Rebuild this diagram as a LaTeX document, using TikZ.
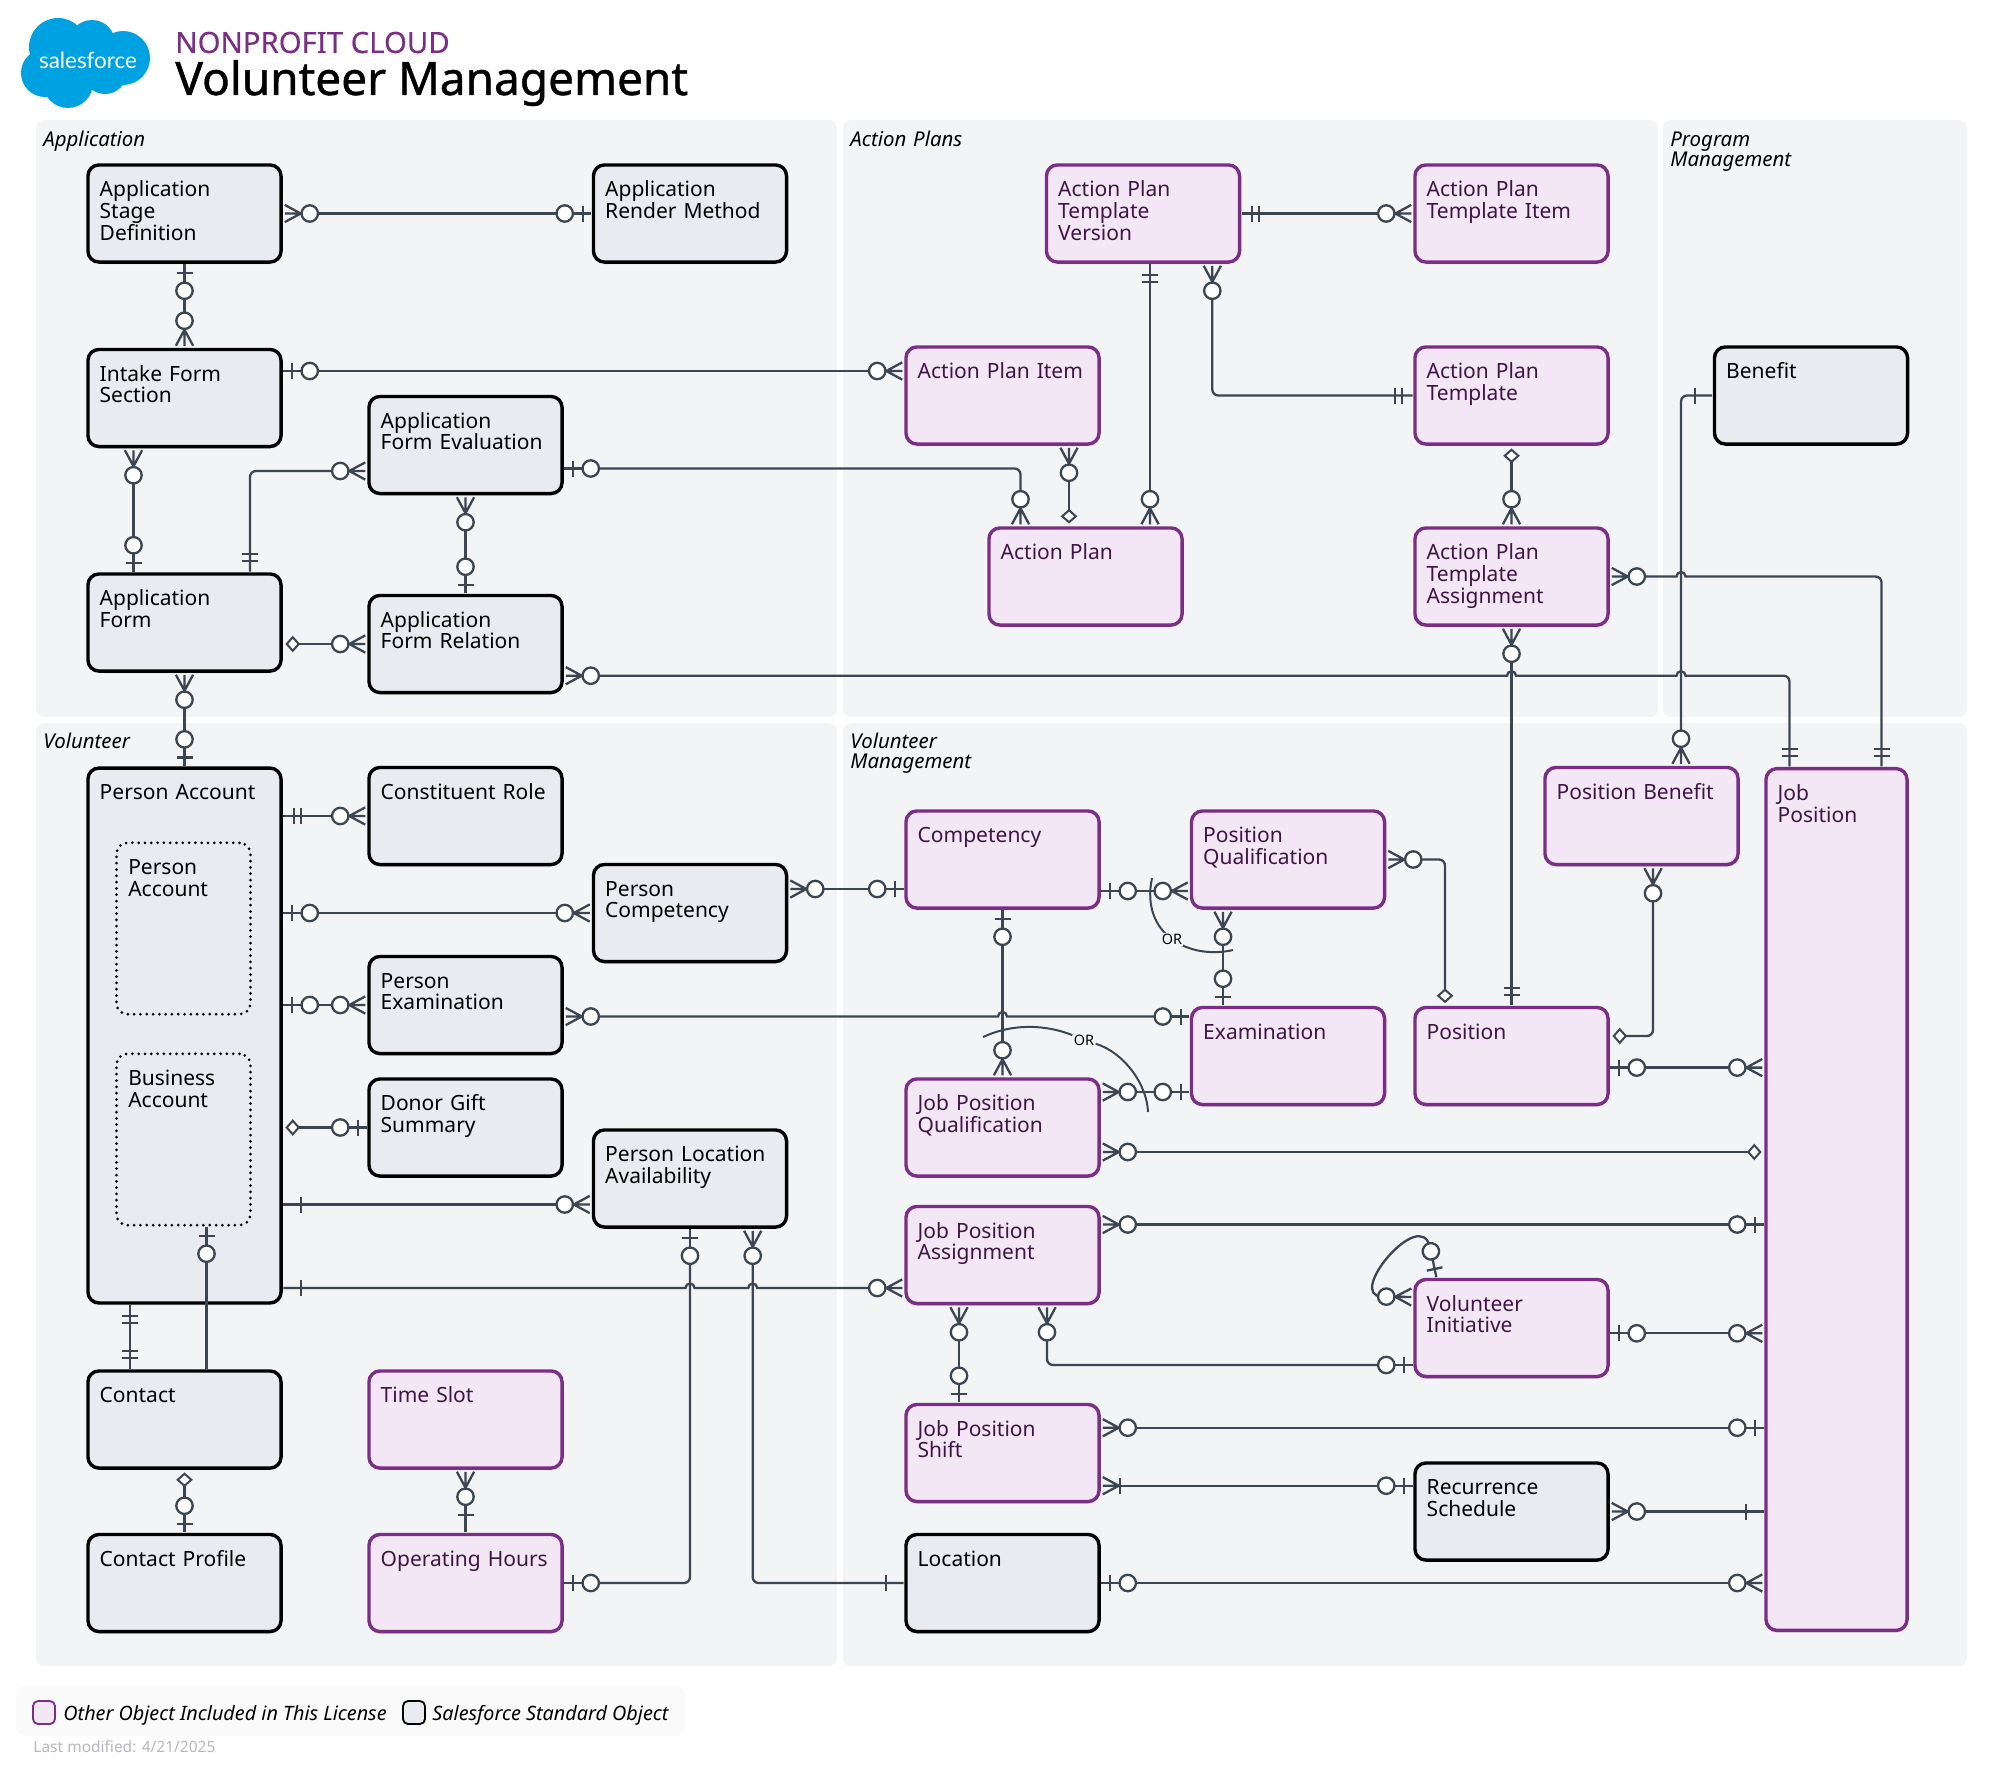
\documentclass[tikz,border=0pt]{standalone}
\usepackage{fontspec}
\setmainfont{Noto Sans}
\newfontfamily\titlefont[FakeBold=1]{Noto Sans}
\newfontfamily\headfont[FakeBold=.3]{Noto Sans}
\newfontfamily\logofont{Lato}
\usetikzlibrary{calc,shadows}

\definecolor{linegray}{HTML}{3B4652}
\definecolor{panelgray}{HTML}{F3F4F6}
\definecolor{stdfill}{HTML}{E9EBF0}
\definecolor{licfill}{HTML}{F3E7F5}
\definecolor{licline}{HTML}{7A2E85}
\definecolor{lictext}{HTML}{3F1546}
\definecolor{logoblue}{HTML}{00A1E0}
\definecolor{legendgray}{HTML}{FAFAFB}
\definecolor{notegray}{HTML}{B4B7BC}

\newcommand{\tipcircle}{\pgfsetfillcolor{white}\pgfpathcircle{\pgfqpoint{-13.5pt}{0pt}}{4.1pt}\pgfusepathqfillstroke}
\newcommand{\tipcrow}{
	\pgfpathmoveto{\pgfqpoint{-1pt}{4.3pt}}\pgfpathlineto{\pgfqpoint{-9pt}{0pt}}\pgfpathlineto{\pgfqpoint{-1pt}{-4.3pt}}
	\pgfpathmoveto{\pgfqpoint{-1pt}{0pt}}\pgfpathlineto{\pgfqpoint{-9.5pt}{0pt}}\pgfusepathqstroke}
\newcommand{\tipbar}[1]{\pgfpathmoveto{\pgfqpoint{#1}{4pt}}\pgfpathlineto{\pgfqpoint{#1}{-4pt}}\pgfusepathqstroke}

\pgfdeclarearrow{name=zm,
	setup code={\pgfarrowssettipend{0pt}\pgfarrowssetbackend{-17.5pt}\pgfarrowssetlineend{-15.5pt}},
	drawing code={\pgfsetlinewidth{1.15pt}\tipcrow\tipcircle}}
\pgfdeclarearrow{name=zo,
	setup code={\pgfarrowssettipend{0pt}\pgfarrowssetbackend{-17.5pt}\pgfarrowssetlineend{-15.5pt}},
	drawing code={\pgfsetlinewidth{1.15pt}\pgfpathmoveto{\pgfqpoint{-.3pt}{0pt}}\pgfpathlineto{\pgfqpoint{-10pt}{0pt}}\pgfusepathqstroke\tipbar{-4.5pt}\tipcircle}}
\pgfdeclarearrow{name=one,
	setup code={\pgfarrowssettipend{0pt}\pgfarrowssetbackend{-9pt}\pgfarrowssetlineend{-.3pt}},
	drawing code={\pgfsetlinewidth{1.15pt}\tipbar{-9pt}}}
\pgfdeclarearrow{name=two,
	setup code={\pgfarrowssettipend{0pt}\pgfarrowssetbackend{-9pt}\pgfarrowssetlineend{-.3pt}},
	drawing code={\pgfsetlinewidth{1.15pt}\tipbar{-5.5pt}\tipbar{-9pt}}}
\pgfdeclarearrow{name=dm,
	setup code={\pgfarrowssettipend{0pt}\pgfarrowssetbackend{-8pt}\pgfarrowssetlineend{-7.5pt}},
	drawing code={\pgfsetlinewidth{1pt}\pgfsetfillcolor{white}
		\pgfpathmoveto{\pgfqpoint{-2pt}{0pt}}\pgfpathlineto{\pgfqpoint{-5pt}{3.4pt}}\pgfpathlineto{\pgfqpoint{-8pt}{0pt}}\pgfpathlineto{\pgfqpoint{-5pt}{-3.4pt}}\pgfpathclose\pgfusepathqfillstroke}}
\pgfdeclarearrow{name=cb,
	setup code={\pgfarrowssettipend{0pt}\pgfarrowssetbackend{-9.5pt}\pgfarrowssetlineend{-1pt}},
	drawing code={\pgfsetlinewidth{1.15pt}\tipcrow\tipbar{-9.5pt}}}

% line hop over the vertical through #1, the line being at the height of #2
\newcommand{\hop}[2]{[sharp corners] -- ($(#1 |- #2)+(-4.5,0)$) arc[start angle=180,end angle=0,radius=2.25pt] [rounded corners=3pt]}

\tikzset{
	objbox/.style={
		rectangle, rounded corners=5.5pt, line width=1.7pt, align=left,
		text width=84.8pt, inner xsep=5.875pt, inner ysep=0pt,
		text height=15.9pt, text depth=32.65pt,
		font=\fontsize{10.5}{10.85}\selectfont,
		drop shadow={shadow xshift=0pt,shadow yshift=-1.2pt,opacity=.12}
	},
	stdobj/.style={objbox, draw=black, fill=stdfill, text=black},
	licobj/.style={objbox, draw=licline, fill=licfill, text=lictext},
	subobj/.style={
		rectangle, rounded corners=5.5pt, draw=black, line width=1.5pt, line cap=round,
		dash pattern=on 0pt off 3.15pt, align=left,
		text width=55.25pt, inner xsep=5.875pt, inner ysep=0pt,
		text height=15.9pt, text depth=69.8pt,
		font=\fontsize{10.5}{10.85}\selectfont
	},
	panel/.style={fill=panelgray, rounded corners=4pt},
	panellabel/.style={
		anchor=base west, inner sep=0pt, align=left, text width=120pt,
		font=\fontsize{10.2}{10}\selectfont\itshape
	},
	connect/.style={line width=1.15pt, draw=linegray, rounded corners=3pt},
	orarc/.style={line width=1pt, draw=linegray},
	orlabel/.style={fill=panelgray, inner sep=.6pt, font=\fontsize{7.2}{8}\selectfont, text=black},
	swatch/.style={rectangle, rounded corners=2.5pt, line width=.9pt, minimum width=11pt, minimum height=11.5pt, inner sep=0pt},
	legendtext/.style={anchor=base west, inner sep=0pt, font=\fontsize{9.9}{10}\selectfont\itshape}
}

\begin{document}
\begin{tikzpicture}[x=.5pt,y=-.5pt]
	\useasboundingbox (0,0) rectangle (2000,1777);

	\fill[logoblue] (58,47) circle[radius=29] (92,43) circle[radius=23] (123,58) circle[radius=27]
		(45,73) circle[radius=24] (68,83) circle[radius=25] (105,72) circle[radius=22];
	\node[text=white, inner sep=0pt, font=\fontsize{11.2}{12}\selectfont\logofont] (logo) at (88,60) {salesforce};
	\node[anchor=base west, inner sep=0pt, text=licline, font=\fontsize{14.65}{16}\selectfont\headfont] (cloudname) at (175,53) {NONPROFIT CLOUD};
	\node[anchor=base west, inner sep=0pt, text=black, font=\fontsize{23}{24}\selectfont\titlefont] (title) at (175,95) {Volunteer Management};

	\fill[panel] (36,120) rectangle (837,717);
	\fill[panel] (843,120) rectangle (1658,717);
	\fill[panel] (1663,120) rectangle (1967,717);
	\fill[panel] (36,723) rectangle (837,1666);
	\fill[panel] (843,723) rectangle (1967,1666);
	\node[panellabel] (plapp) at (43,146) {Application};
	\node[panellabel] (plact) at (850,146) {Action Plans};
	\node[panellabel] (plprog) at (1670,146) {Program\\Management};
	\node[panellabel] (plvol) at (43,748) {Volunteer};
	\node[panellabel] (plvm) at (850,748) {Volunteer\\Management};

	\node[stdobj] (ASD) at (184.5,213.5) {Application\\Stage\\Definition};
	\node[stdobj] (ARM) at (690,213.5) {Application\\Render Method};
	\node[stdobj] (IFS) at (184.5,398) {Intake Form\\Section};
	\node[stdobj] (AFE) at (465.5,445) {Application\\Form Evaluation};
	\node[stdobj] (AF) at (184.5,622.5) {Application\\Form};
	\node[stdobj] (AFR) at (465.5,644) {Application\\Form Relation};

	\node[licobj] (APTV) at (1143,213.5) {Action Plan\\Template\\Version};
	\node[licobj] (APTI) at (1511.5,213.5) {Action Plan\\Template Item};
	\node[licobj] (API) at (1002.5,395.5) {Action Plan Item};
	\node[licobj] (APT) at (1511.5,395.5) {Action Plan\\Template};
	\node[licobj] (AP) at (1085.5,576.5) {Action Plan};
	\node[licobj] (APTA) at (1511.5,576.5) {Action Plan\\Template\\Assignment};
	\node[stdobj] (BEN) at (1811,395.5) {Benefit};

	\node[stdobj, text depth=251.55pt] (PA) at (184.5,1035.5) {Person Account};
	\node[subobj] (PAB) at (183.5,928.5) {Person\\Account};
	\node[subobj] (BAB) at (183.5,1139.5) {Business\\Account};
	\node[stdobj] (CR) at (465.5,816) {Constituent Role};
	\node[stdobj] (PC) at (690,913) {Person\\Competency};
	\node[stdobj] (PE) at (465.5,1005) {Person\\Examination};
	\node[stdobj] (DGS) at (465.5,1127.5) {Donor Gift\\Summary};
	\node[stdobj] (PLA) at (690,1178.5) {Person Location\\Availability};
	\node[stdobj] (CON) at (184.5,1419.5) {Contact};
	\node[licobj] (TS) at (465.5,1419.5) {Time Slot};
	\node[stdobj] (CP) at (184.5,1583) {Contact Profile};
	\node[licobj] (OH) at (465.5,1583) {Operating Hours};

	\node[licobj] (CO) at (1002.5,859.5) {Competency};
	\node[licobj] (PQ) at (1288,859.5) {Position\\Qualification};
	\node[licobj] (PB) at (1641.5,816) {Position Benefit};
	\node[licobj] (EX) at (1288,1056) {Examination};
	\node[licobj] (POS) at (1511.5,1056) {Position};
	\node[licobj] (JPQ) at (1002.5,1127.5) {Job Position\\Qualification};
	\node[licobj] (JPA) at (1002.5,1255) {Job Position\\Assignment};
	\node[licobj] (VI) at (1511.5,1328) {Volunteer\\Initiative};
	\node[licobj] (JPS) at (1002.5,1453) {Job Position\\Shift};
	\node[stdobj] (RS) at (1511.5,1511.5) {Recurrence\\Schedule};
	\node[stdobj] (LOC) at (1002.5,1583) {Location};
	\node[licobj, text width=58.8pt, text depth=415pt] (JP) at (1836.5,1199.5) {Job\\Position};

	\draw[connect,zm-zo] (ASD.east) -- (ARM.west);
	\draw[connect,zo-zm] (ASD.south) -- (IFS.north);
	\draw[connect,zo-zm] ($(IFS.east)+(0,-27)$) coordinate (c) -- (API.west |- c);
	\draw[connect,zm-zo] ($(IFS.south)+(-51,0)$) -- ($(AF.north)+(-51,0)$);
	\draw[connect,zm-two] ($(AFE.west)+(0,26)$) -| ($(AF.north)+(65.5,0)$);
	\draw[connect,zo-zm] ($(AFE.east)+(0,23.5)$) -| ($(AP.north)+(-65,0)$);
	\draw[connect,zm-zo] (AFE.south) -- (AFR.north);
	\draw[connect,dm-zm] (AF.east |- AFR.west) -- (AFR.west);
	\draw[connect,zm-zo] (AF.south) -- (PA.north);

	\coordinate (afrline) at ($(AFR.east)+(0,31.7)$);
	\coordinate (pbline) at ($(PB.north)+(39.5,0)$);
	\draw[connect,zm-two] (afrline) \hop{APTA.south}{afrline} \hop{pbline}{afrline} -| ($(JP.north)+(-47,0)$);
	\draw[connect,zm-two] (APTA.east) \hop{pbline}{APTA.east} -| ($(JP.north)+(45,0)$);
	\draw[connect,one-zm] (BEN.west) -| (pbline);
	\draw[connect,zm-two] (APTA.south) -- (POS.north);

	\draw[connect,two-zm] (APTV.east) -- (APTI.west);
	\draw[connect,two-zm] ($(APTV.south)+(7,0)$) -- ($(AP.north)+(64.5,0)$);
	\draw[connect,zm-two] ($(APTV.south)+(69.3,0)$) |- (APT.west);
	\draw[connect,zm-dm] ($(API.south)+(66.5,0)$) -- ($(AP.north)+(-16.5,0)$);
	\draw[connect,dm-zm] (APT.south) -- (APTA.north);

	\draw[connect,two-zm] (PA.east |- CR.west) -- (CR.west);
	\draw[connect,zo-zm] (PA.east |- PC.west) -- (PC.west);
	\draw[connect,zo-zm] (PA.east |- PE.west) -- (PE.west);
	\draw[connect,dm-zo] (PA.east |- DGS.west) -- (DGS.west);
	\coordinate (plaleft) at ($(PLA.west)+(0,26)$);
	\draw[connect,one-zm] (PA.east |- plaleft) -- (plaleft);
	\coordinate (paline) at ($(JPA.west)+(0,33)$);
	\coordinate (plaright) at ($(PLA.south)+(62.7,0)$);
	\draw[connect,one-zm] (PA.east |- paline) \hop{PLA.south}{paline} \hop{plaright}{paline} -- (paline);
	\draw[connect,two-two] ($(PA.south)+(-54.5,0)$) -- ($(CON.north)+(-54.5,0)$);
	\coordinate (conright) at ($(CON.north)+(22,0)$);
	\draw[connect,zo-] (conright |- BAB.south) -- (conright);
	\draw[connect,dm-zo] (CON.south) -- (CP.north);
	\draw[connect,zm-one] (TS.south) -- (OH.north);
	\draw[connect,zo-zo] (OH.east) -| (PLA.south);
	\draw[connect,zm-one] (plaright) |- (LOC.west);

	\draw[connect,zm-zo] ($(PC.east)+(0,-24)$) coordinate (c) -- (CO.west |- c);
	\draw[connect,zo-zm] ($(CO.east)+(0,31.5)$) coordinate (c) -- (PQ.west |- c);
	\coordinate (peline) at ($(PE.east)+(0,11.5)$);
	\draw[connect,zm-zo] (peline) \hop{CO.south}{peline} -- (EX.west |- peline);
	\draw[connect,zo-zm] (CO.south) -- (JPQ.north);
	\draw[connect,zm-zo] ($(PQ.south)+(-65,0)$) -- ($(EX.north)+(-65,0)$);
	\draw[connect,zm-dm] (PQ.east) -| ($(POS.north)+(-66.5,0)$);
	\draw[connect,zm-zo] ($(JPQ.east)+(0,-35.5)$) coordinate (c) -- (EX.west |- c);
	\draw[connect,zm-dm] ($(JPQ.east)+(0,24.5)$) coordinate (c) -- (JP.west |- c);
	\draw[connect,zo-zm] ($(POS.east)+(0,11.6)$) coordinate (c) -- (JP.west |- c);
	\draw[connect,dm-zm] ($(POS.east)+(0,-20)$) -| ($(PB.south)+(11.5,0)$);
	\draw[connect,zm-zo] ($(JPA.east)+(0,-30.5)$) coordinate (c) -- (JP.west |- c);
	\draw[connect,zm-zo] ($(JPA.south)+(-43.5,0)$) -- ($(JPS.north)+(-43.5,0)$);
	\draw[connect,zm-zo] ($(JPA.south)+(44.5,0)$) |- ($(VI.west)+(0,37)$);
	\draw[connect,zo-zm] ($(VI.north)+(-75,0)$) .. controls (1421,1205) and (1345,1296) .. ($(VI.west)+(0,-31)$);
	\draw[connect,zo-zm] ($(VI.east)+(0,5.3)$) coordinate (c) -- (JP.west |- c);
	\draw[connect,zm-zo] ($(JPS.east)+(0,-25.3)$) coordinate (c) -- (JP.west |- c);
	\draw[connect,cb-zo] ($(JPS.east)+(0,32.7)$) coordinate (c) -- (RS.west |- c);
	\draw[connect,zm-one] (RS.east) -- (JP.west |- RS.east);
	\draw[connect,zo-zm] (LOC.east) -- (JP.west |- LOC.east);

	\draw[orarc] (1152,878) .. controls (1140,935) and (1190,960) .. node[orlabel] (orone) {OR} (1233,950);
	\node[orlabel] (ortwo) at (1084,1040) {OR};
	\draw[orarc] (983,1037) .. controls (1020,1020) and (1055,1028) .. (ortwo) .. controls (1125,1053) and (1147,1085) .. (1148,1112);

	\fill[legendgray, rounded corners=5pt] (16,1686) rectangle (685,1736);
	\node[swatch, draw=licline, fill=licfill] (lglic) at (44,1712.5) {};
	\node[legendtext] (lglictext) at (63,1720) {Other Object Included in This License};
	\node[swatch, draw=black, fill=stdfill] (lgstd) at (414,1712.5) {};
	\node[legendtext] (lgstdtext) at (432,1720) {Salesforce Standard Object};
	\node[anchor=base west, inner sep=0pt, text=notegray, font=\fontsize{7.75}{8}\selectfont] (lastmod) at (33,1752) {Last modified: 4/21/2025};
\end{tikzpicture}
\end{document}
